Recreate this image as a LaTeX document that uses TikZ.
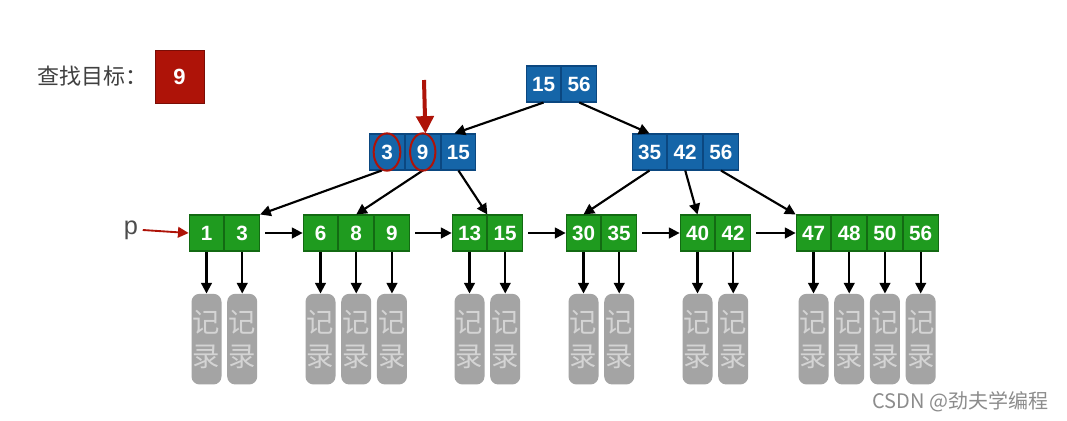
\documentclass[tikz,border=0pt]{standalone}
\usepackage{fontspec}
\setmainfont{Liberation Sans}
\newfontfamily\cjk{Noto Sans CJK SC}
\usetikzlibrary{positioning,arrows.meta}
\definecolor{keyblue}{HTML}{1565A8}
\definecolor{blueline}{HTML}{0B4780}
\definecolor{leafgreen}{HTML}{1F9B1F}
\definecolor{greenline}{HTML}{136A13}
\definecolor{recgray}{HTML}{A4A4A4}
\definecolor{rectext}{HTML}{D4D4D4}
\definecolor{hitred}{HTML}{AE1308}
\begin{document}
\begin{tikzpicture}[x=0.75pt,y=-0.75pt,
  key/.style={rectangle, draw=blueline, fill=keyblue, text=white, line width=0.8pt,
    minimum width=26pt, minimum height=27pt, inner sep=0pt,
    font=\bfseries\fontsize{15.5}{15.5}\selectfont},
  leaf/.style={key, draw=greenline, fill=leafgreen},
  rec/.style={rectangle, rounded corners=6pt, fill=recgray, text=rectext, align=center,
    minimum width=22.5pt, minimum height=68pt, inner sep=0pt,
    font=\cjk\fontsize{20.5}{25.5}\selectfont},
  link/.style={-{Triangle[length=8pt,width=8pt]}, line width=1.6pt},
  node distance=31.5pt]

  \fill[white] (0,0) rectangle (1067,421);
  \useasboundingbox (0,0) rectangle (1067,421);

  % search target
  \node[draw=hitred!70!black, fill=hitred, text=white, minimum width=37pt, minimum height=40pt,
    font=\bfseries\fontsize{16.5}{16.5}\selectfont] (goal) at (179.5,76.5) {9};
  \node[left=2pt of goal, text=black!75, font=\cjk\fontsize{16.5}{16.5}\selectfont] (title) {查找目标：};

  % root
  \node[key] (r1) at (543.5,84) {15};
  \node[key, right=0pt of r1] (r2) {56};

  % inner nodes
  \node[key] (m1) at (387,152) {3};
  \node[key, right=0pt of m1] (m2) {9};
  \node[key, right=0pt of m2] (m3) {15};
  \node[key] (n1) at (649.5,152) {35};
  \node[key, right=0pt of n1] (n2) {42};
  \node[key, right=0pt of n2] (n3) {56};

  % leaves
  \node[leaf] (a1) at (206.5,233) {1};
  \node[leaf, right=0pt of a1] (a2) {3};
  \node[leaf] (b1) at (320.5,233) {6};
  \node[leaf, right=0pt of b1] (b2) {8};
  \node[leaf, right=0pt of b2] (b3) {9};
  \node[leaf] (c1) at (469.5,233) {13};
  \node[leaf, right=0pt of c1] (c2) {15};
  \node[leaf] (d1) at (583.5,233) {30};
  \node[leaf, right=0pt of d1] (d2) {35};
  \node[leaf] (e1) at (697.5,233) {40};
  \node[leaf, right=0pt of e1] (e2) {42};
  \node[leaf] (f1) at (813.5,233) {47};
  \node[leaf, right=0pt of f1] (f2) {48};
  \node[leaf, right=0pt of f2] (f3) {50};
  \node[leaf, right=0pt of f3] (f4) {56};

  % tree links
  \draw[link] (r1.south) -- ([xshift=-3pt]m3.north);
  \draw[link] (r2.south) -- (n1.north);
  \draw[link] ([xshift=-4pt]m1.south) -- (a2.north east);
  \draw[link] (m2.south) -- (b2.north);
  \draw[link] (m3.south) -- (c2.north west);
  \draw[link] (n1.south) -- (d1.north);
  \draw[link] (n2.south) -- (e1.north);
  \draw[link] (n3.south) -- (f1.north west);

  % leaf chain
  \node[text=black!70, font=\fontsize{19}{19}\selectfont] (p) at (131,230) {p};
  \draw[link, hitred, line width=1.4pt] (p.east) -- (a1.west);
  \draw[link] ([xshift=4pt]a2.east) -- (b1.west);
  \draw[link] ([xshift=4pt]b3.east) -- (c1.west);
  \draw[link] ([xshift=4pt]c2.east) -- (d1.west);
  \draw[link] ([xshift=4pt]d2.east) -- (e1.west);
  \draw[link] ([xshift=4pt]e2.east) -- (f1.west);

  % records
  \node[rec, below=of a1] (ra1) {记\\录}; \draw[link] (a1) -- (ra1);
  \node[rec, below=of a2] (ra2) {记\\录}; \draw[link] (a2) -- (ra2);
  \node[rec, below=of b1] (rb1) {记\\录}; \draw[link] (b1) -- (rb1);
  \node[rec, below=of b2] (rb2) {记\\录}; \draw[link] (b2) -- (rb2);
  \node[rec, below=of b3] (rb3) {记\\录}; \draw[link] (b3) -- (rb3);
  \node[rec, below=of c1] (rc1) {记\\录}; \draw[link] (c1) -- (rc1);
  \node[rec, below=of c2] (rc2) {记\\录}; \draw[link] (c2) -- (rc2);
  \node[rec, below=of d1] (rd1) {记\\录}; \draw[link] (d1) -- (rd1);
  \node[rec, below=of d2] (rd2) {记\\录}; \draw[link] (d2) -- (rd2);
  \node[rec, below=of e1] (re1) {记\\录}; \draw[link] (e1) -- (re1);
  \node[rec, below=of e2] (re2) {记\\录}; \draw[link] (e2) -- (re2);
  \node[rec, below=of f1] (rf1) {记\\录}; \draw[link] (f1) -- (rf1);
  \node[rec, below=of f2] (rf2) {记\\录}; \draw[link] (f2) -- (rf2);
  \node[rec, below=of f3] (rf3) {记\\录}; \draw[link] (f3) -- (rf3);
  \node[rec, below=of f4] (rf4) {记\\录}; \draw[link] (f4) -- (rf4);

  % current position
  \coordinate (ptr) at (424,80);
  \draw[-{Triangle[length=13pt,width=13pt]}, hitred, line width=3pt] (ptr) -- ([xshift=2pt]m2.north);
  \draw[hitred, line width=1.5pt] (m1) ellipse (10pt and 14pt);
  \draw[hitred, line width=1.5pt] (m2) ellipse (9.5pt and 14pt);

  \node[anchor=east, text=black!45, font=\cjk\fontsize{15}{15}\selectfont] (mark) at (1053,402) {CSDN @劲夫学编程};
\end{tikzpicture}
\end{document}
